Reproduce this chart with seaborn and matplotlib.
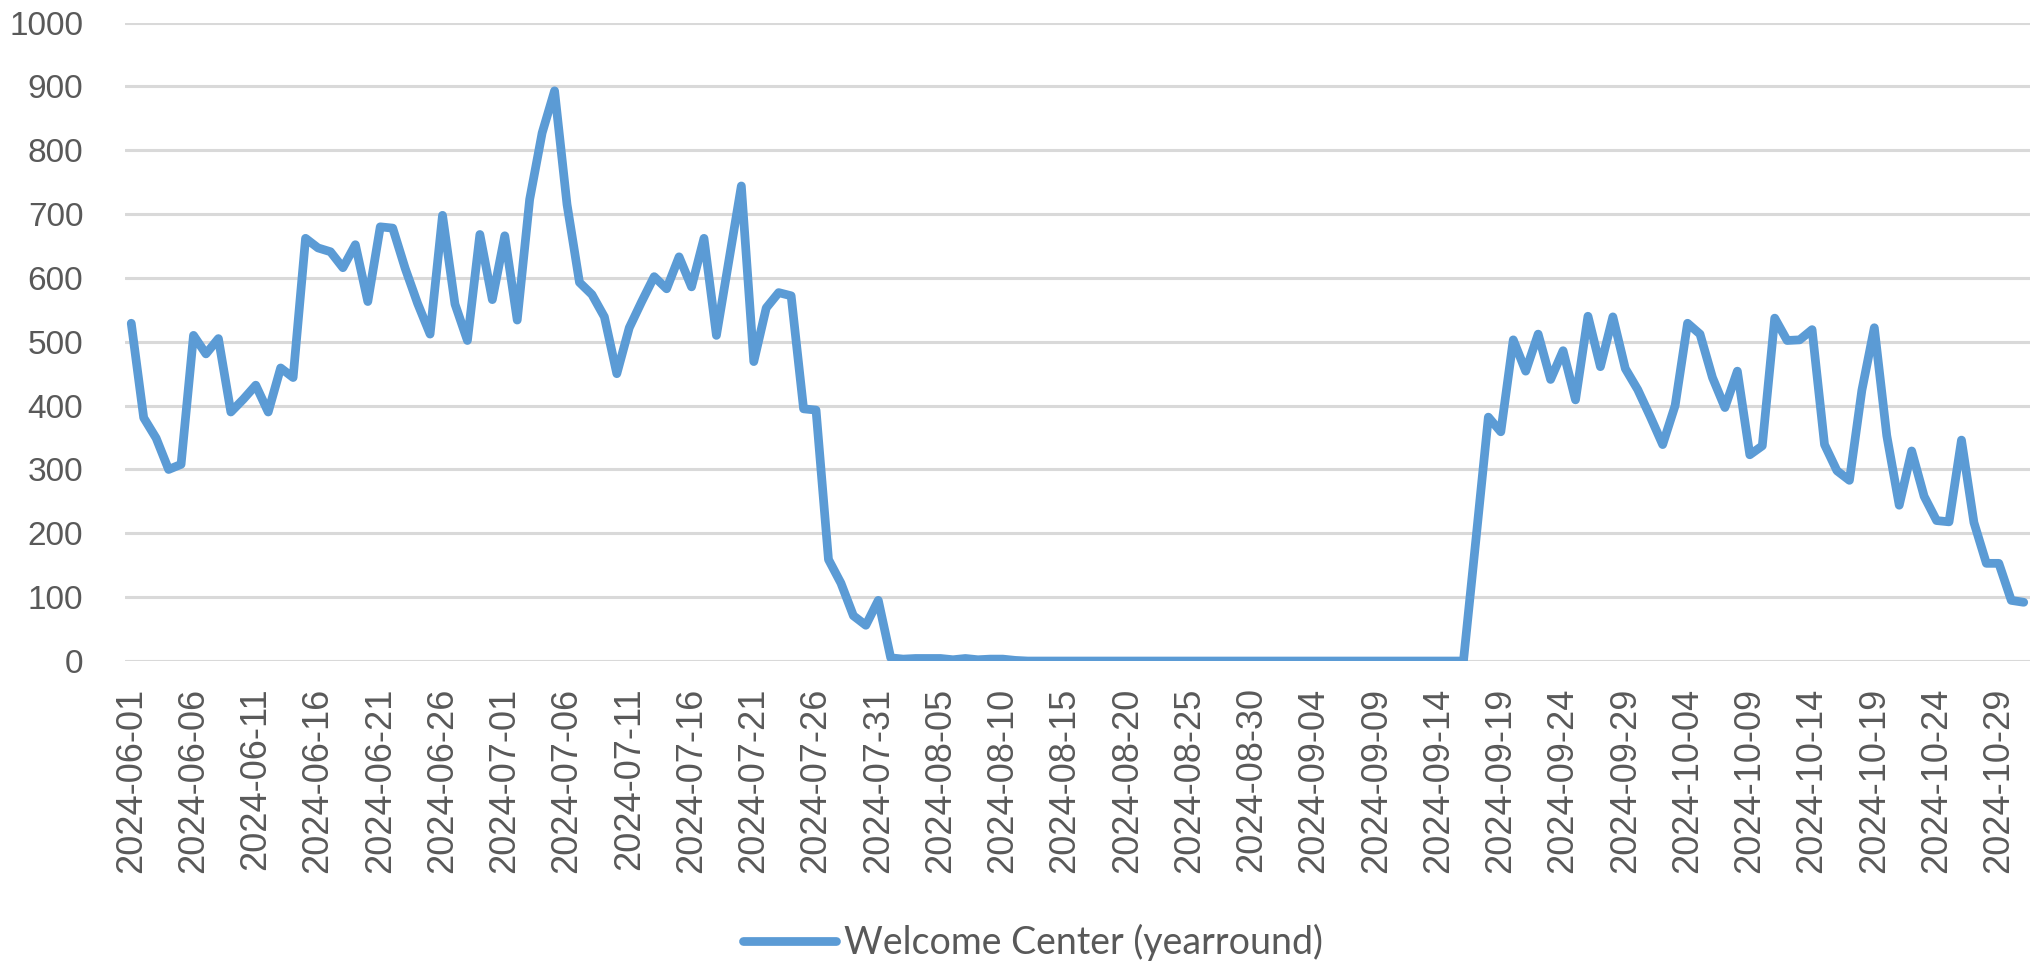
import numpy as np
import pandas as pd
import seaborn as sns
import matplotlib.pyplot as plt

# Daily visitor counts, 2024-06-01 .. 2024-10-31
start_date = "2024-06-01"
end_date = "2024-10-31"
series_name = "Welcome Center (yearround)"

june_july = [529, 381, 349, 300, 308, 510, 481, 505, 390, 410,
             432, 390, 459, 444, 662, 647, 641, 616, 652, 563,
             680, 678, 615, 560, 512, 698, 559, 502, 668, 566,
             666, 534, 723, 827, 893, 715, 593, 574, 539, 450,
             522, 563, 602, 583, 633, 586, 662, 510, 627, 744,
             469, 553, 577, 572, 395, 393, 159, 122, 71, 56, 95]
aug_sep_closed = [5, 3, 4, 4, 4, 2, 4, 2, 3, 3, 1] + [0] * 36
sep_oct = [190, 382, 359, 503, 454, 512, 441, 486, 409, 540,
           461, 539, 458, 425, 383, 339, 400, 529, 512, 444,
           397, 454, 323, 337, 537, 502, 503, 519, 339, 298,
           283, 424, 522, 353, 244, 329, 258, 220, 218, 346,
           217, 153, 153, 95, 92]
visitors = june_july + aug_sep_closed + sep_oct

y_ticks = [0, 100, 200, 300, 400, 500, 600, 700, 800, 900, 1000]

dates = pd.date_range(start_date, end_date, freq="D")
df = pd.DataFrame({"day": np.arange(len(dates)), "visitors": visitors,
                   "date": dates.strftime("%Y-%m-%d")})

sns.set_theme(style="white")
plt.rcParams["font.family"] = ["Liberation Sans", "DejaVu Sans"]

text_col = "#595959"
line_col = "#5B9BD5"
grid_col = "#D9D9D9"

fig = plt.figure(figsize=(20.33, 9.66), dpi=100)
ax = fig.add_axes([0.0615, 0.3157, 0.937, 0.661])

sns.lineplot(data=df, x="day", y="visitors", ax=ax, color=line_col,
             linewidth=6.3, label=series_name, legend=False,
             solid_capstyle="round", solid_joinstyle="round", zorder=3)

ax.set_xlim(-0.5, len(df) - 0.5)
ax.set_ylim(0, 1000)
ax.set_yticks(y_ticks)
ax.set_yticklabels([str(v) for v in y_ticks], fontsize=24, color=text_col)
tick_pos = df["day"][::5]
ax.set_xticks(tick_pos)
ax.set_xticklabels(df["date"][::5], rotation=90, fontsize=26, color=text_col)
ax.tick_params(axis="y", length=0, pad=30)
ax.tick_params(axis="x", length=0, pad=19)

ax.grid(axis="y", color=grid_col, linewidth=2.2)
ax.set_axisbelow(True)
for s in ax.spines.values():
    s.set_visible(False)
ax.set_xlabel("")
ax.set_ylabel("")

handles, labels = ax.get_legend_handles_labels()
leg = fig.legend(handles, labels, loc="center", bbox_to_anchor=(0.508, 0.024),
                 frameon=False, handlelength=2.5, handletextpad=0.2,
                 prop={"family": "Lato", "size": 27})
for t in leg.get_texts():
    t.set_color(text_col)

fig.savefig("out.png", dpi=100)
